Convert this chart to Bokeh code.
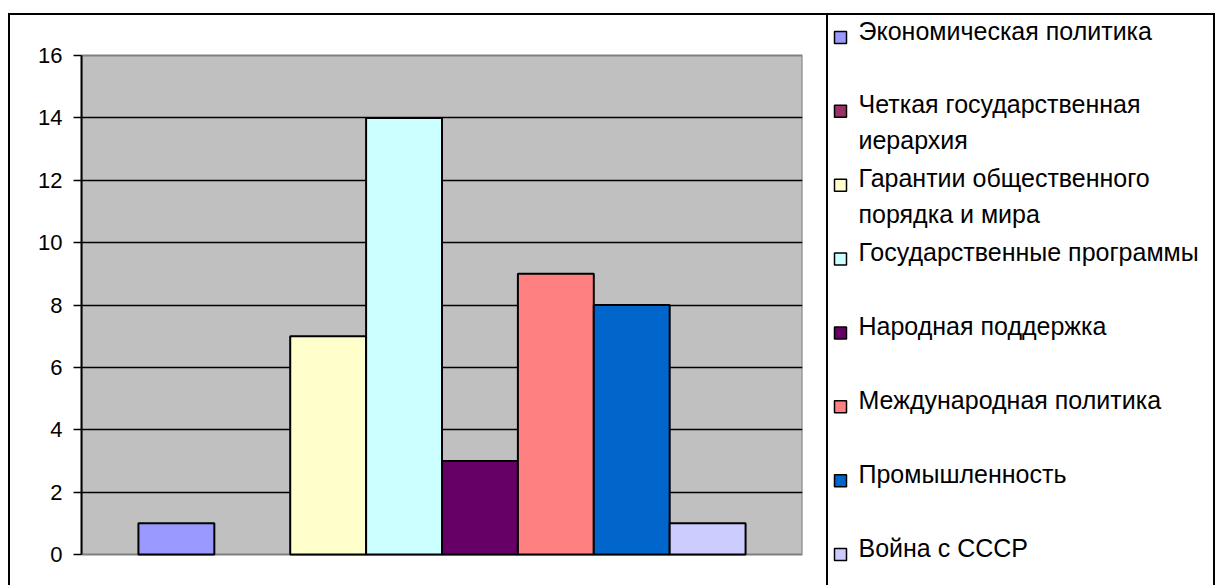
from bokeh.plotting import figure
from bokeh.layouts import row
from bokeh.models import Range1d, FixedTicker, ColumnDataSource, BoxAnnotation
from bokeh.embed import file_html
from bokeh.resources import INLINE
from bokeh.core.properties import value

# ---- data ----
series = [
    "Экономическая политика",
    "Четкая государственная иерархия",
    "Гарантии общественного порядка и мира",
    "Государственные программы",
    "Народная поддержка",
    "Международная политика",
    "Промышленность",
    "Война с СССР",
]
legend_labels = [
    "Экономическая политика",
    "Четкая государственная\nиерархия",
    "Гарантии общественного\nпорядка и мира",
    "Государственные программы",
    "Народная поддержка",
    "Международная политика",
    "Промышленность",
    "Война с СССР",
]
values = [1, 0, 7, 14, 3, 9, 8, 1]
colors = ["#9999FF", "#993366", "#FFFFCC", "#CCFFFF", "#660066", "#FF8080", "#0066CC", "#CCCCFF"]
y_ticks = [0, 2, 4, 6, 8, 10, 12, 14, 16]

FONT = "Liberation Sans"
n = len(series)

# ---- layout geometry (pixels) ----
H = 570              # canvas height
PLOT_TOP = 40        # distance of value 16 from canvas top
PLOT_BOTTOM = 539    # distance of value 0 from canvas top
ymin, ymax = y_ticks[0], y_ticks[-1]
ppu = (PLOT_BOTTOM - PLOT_TOP) / (ymax - ymin)
y_lo = ymin - (H - PLOT_BOTTOM) / ppu
y_hi = ymax + PLOT_TOP / ppu

# ---- bar chart ----
idx = [i for i in range(n) if values[i] != 0]
bar_src = ColumnDataSource(dict(
    x=[i + 0.5 for i in idx],
    top=[values[i] for i in idx],
    color=[colors[i] for i in idx],
    name=[series[i] for i in idx],
))

x_lo, x_hi = -0.75, n + 0.75
bar = figure(width=816, height=H, x_range=Range1d(x_lo, x_hi), y_range=Range1d(y_lo, y_hi),
             output_backend="svg", toolbar_location=None,
             min_border_left=71, min_border_right=24, min_border_top=0, min_border_bottom=0,
             x_axis_location=None)
bar.title.visible = False
bar.background_fill_color = "white"
bar.border_fill_color = "white"
bar.outline_line_color = None
bar.xgrid.grid_line_color = None
bar.ygrid.ticker = FixedTicker(ticks=y_ticks[1:-1])
bar.ygrid.grid_line_color = "black"
bar.ygrid.grid_line_width = 1.4

plot_area = BoxAnnotation(left=x_lo, right=x_hi, bottom=ymin, top=ymax, level="underlay",
                          fill_color="#C0C0C0", fill_alpha=1.0,
                          line_color="#808080", line_width=2, line_alpha=1.0)
bar.center = [plot_area] + list(bar.center)

ax = bar.yaxis[0]
ax.ticker = FixedTicker(ticks=y_ticks)
ax.bounds = (ymin, ymax)
ax.axis_line_color = "black"
ax.axis_line_width = 2
ax.major_tick_in = 0
ax.major_tick_out = 8
ax.major_tick_line_width = 1.5
ax.minor_tick_line_color = None
ax.major_label_text_font = FONT
ax.major_label_text_font_size = "22px"
ax.major_label_text_color = "black"
ax.major_label_standoff = 11

bar.vbar(x="x", top="top", width=1.0, bottom=0, source=bar_src,
         fill_color="color", line_color="black", line_width=2)

# ---- legend panel ----
SLOT0 = 15           # first entry (text centre) from canvas top
SLOT_STEP = 73.86    # spacing of entries
leg_lo = (H - SLOT0) / SLOT_STEP
leg_hi = -SLOT0 / SLOT_STEP
leg = figure(width=387, height=H, x_range=Range1d(0, 387), y_range=Range1d(leg_lo, leg_hi),
             output_backend="svg", toolbar_location=None, min_border=0,
             x_axis_location=None, y_axis_location=None)
leg.title.visible = False
leg.outline_line_color = None
leg.grid.grid_line_color = None
leg.background_fill_color = "white"
leg.border_fill_color = "white"
leg.styles = {"border-left": "2px solid black"}

leg_src = ColumnDataSource(dict(
    ym=[i + 7.0 / SLOT_STEP for i in range(n)],
    yt=[i - 14.0 / SLOT_STEP for i in range(n)],
    label=legend_labels,
    color=colors,
))
leg.scatter(x=12, y="ym", source=leg_src, marker="square", size=12,
            fill_color="color", line_color="black", line_width=1.5)
leg.text(x=30, y="yt", text="label", source=leg_src, text_baseline="top", text_align="left",
         text_font=value(FONT), text_font_size="25px", text_color="black", text_line_height=1.28)

layout = row(bar, leg, styles={"border-top": "2px solid black", "border-left": "2px solid black",
                               "border-right": "2px solid black",
                               "margin-top": "13px", "margin-left": "8px"})

open("out.html", "w").write(file_html(layout, INLINE))
